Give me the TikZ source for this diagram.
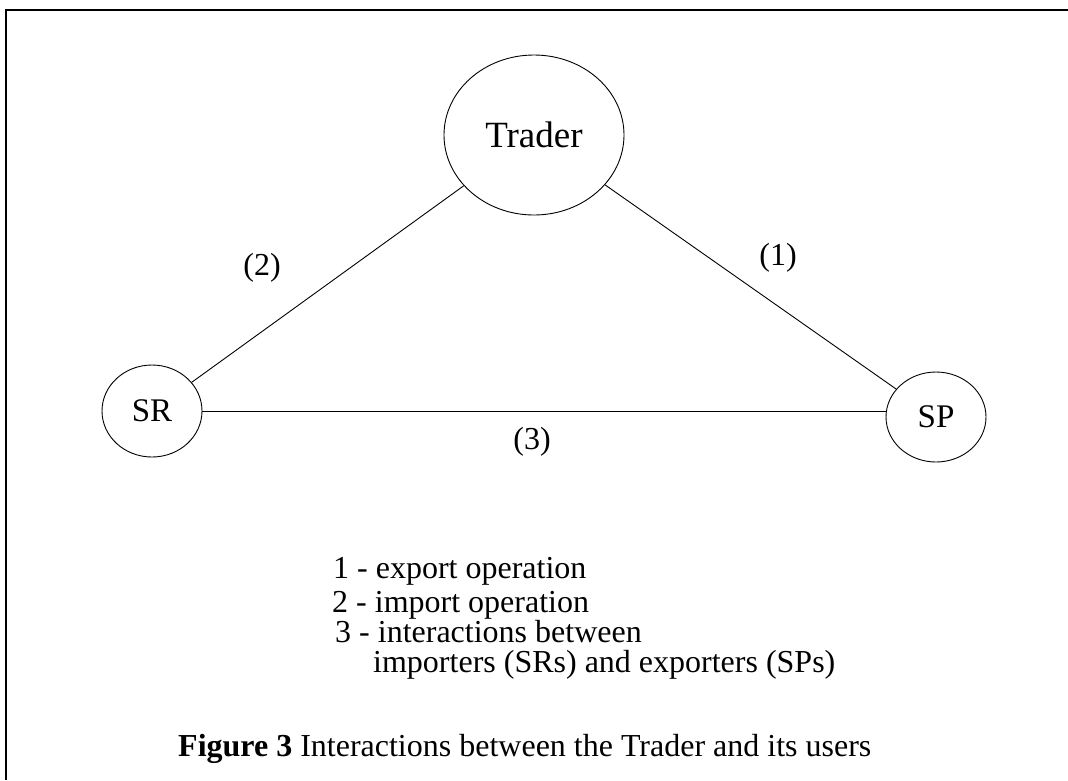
\documentclass[tikz,border=0pt]{standalone}
\usepackage{fontspec}
\setmainfont{Liberation Serif}
\usepackage{tikz}
\usetikzlibrary{shapes.geometric}

\begin{document}
\begin{tikzpicture}[x=1pt,y=-1pt,
		every node/.style={inner sep=0pt},
		party/.style={draw, ellipse, line width=0.9pt},
		link/.style={line width=0.9pt},
		tag/.style={font=\fontsize{32}{34}\selectfont},
		legend/.style={anchor=base west, font=\fontsize{32}{34}\selectfont}]
	\useasboundingbox (0,0) rectangle (1068,780);
	% frame
	\draw[line width=2pt] (1068,10) -- (6,10) -- (6,780);

	% the trader and its users
	\node[party, minimum width=180pt, minimum height=160pt,
		font=\fontsize{37}{40}\selectfont] (trader) at (534,135) {Trader};
	\node[party, minimum width=100pt, minimum height=92pt,
		font=\fontsize{33}{35}\selectfont] (sr) at (152,411) {SR};
	\node[party, minimum width=100pt, minimum height=90pt,
		font=\fontsize{33}{35}\selectfont] (sp) at (936,417) {SP};

	\draw[link] (trader) -- (sp);
	\draw[link] (trader) -- (sr);
	\draw[link] (sr.east) -- (sr.east -| sp.west);

	\node[tag] (lab1) at (778,258) {(1)};
	\node[tag] (lab2) at (262,268) {(2)};
	\node[tag] (lab3) at (532,442) {(3)};

	% legend
	\node[legend] (key1) at (333,578) {1 - export operation};
	\node[legend] (key2) at (332,612) {2 - import operation};
	\node[legend] (key3) at (335,642) {3 - interactions between};
	\node[legend] (key4) at (373,672) {importers (SRs) and exporters (SPs)};

	% caption
	\node[anchor=base west, font=\fontsize{32}{34}\selectfont] (caption) at (178,756)
		{\textbf{Figure 3} Interactions between the Trader and its users};
\end{tikzpicture}
\end{document}
